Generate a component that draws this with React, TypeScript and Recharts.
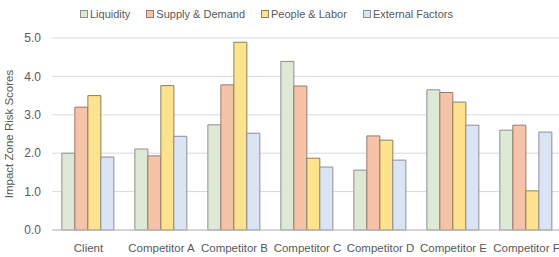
import React from "react";
import { BarChart, Bar, XAxis, YAxis, CartesianGrid, Legend } from "recharts";

const categories = ["Client", "Competitor A", "Competitor B", "Competitor C", "Competitor D", "Competitor E", "Competitor F"];
const liquidity = [2.0, 2.11, 2.74, 4.39, 1.56, 3.65, 2.6];
const supplyDemand = [3.2, 1.93, 3.78, 3.75, 2.45, 3.58, 2.73];
const peopleLabor = [3.5, 3.76, 4.89, 1.87, 2.34, 3.33, 1.02];
const externalFactors = [1.9, 2.44, 2.52, 1.64, 1.82, 2.73, 2.55];
const yTicks = [0, 1, 2, 3, 4, 5];

const data = categories.map((name, i) => ({
  name,
  liquidity: liquidity[i],
  supply: supplyDemand[i],
  people: peopleLabor[i],
  external: externalFactors[i],
}));

const SERIES = [
  { key: "liquidity", label: "Liquidity", fill: "#dde9d5", stroke: "#8e8e8e" },
  { key: "supply", label: "Supply & Demand", fill: "#f5c4a8", stroke: "#9a7a6c" },
  { key: "people", label: "People & Labor", fill: "#fde38e", stroke: "#8f7f5a" },
  { key: "external", label: "External Factors", fill: "#dae4f3", stroke: "#8e8e98" },
];

const TEXT = "#595959";

function LegendRow() {
  return (
    <div style={{ display: "flex", gap: 16, fontSize: 11, color: TEXT, fontFamily: "Liberation Sans, Arial, sans-serif" }}>
      {SERIES.map((s) => (
        <div key={s.key} style={{ display: "flex", alignItems: "center", gap: 2 }}>
          <span style={{ width: 6, height: 6, background: s.fill, border: `1px solid ${s.stroke}`, display: "inline-block" }} />
          <span>{s.label}</span>
        </div>
      ))}
    </div>
  );
}

export default function App() {
  return (
    <div style={{ position: "fixed", left: 0, top: 0, width: 559, height: 257, overflow: "hidden", background: "#fff", fontFamily: "Liberation Sans, Arial, sans-serif" }}>
      <BarChart
        width={566}
        height={257}
        data={data}
        margin={{ top: 10, right: 3, left: 0, bottom: 0 }}
        barCategoryGap="13.5%"
        barGap={0}
      >
        <Legend
          verticalAlign="top"
          height={28}
          content={() => <LegendRow />}
          wrapperStyle={{ left: 80, top: 8, width: 420 }}
        />
        <CartesianGrid vertical={false} stroke="#d9d9d9" />
        <XAxis
          dataKey="name"
          tickLine={false}
          axisLine={{ stroke: "#bfbfbf" }}
          tick={{ fill: TEXT, fontSize: 11.5 }}
          interval={0}
          height={27}
          tickMargin={8}
        />
        <YAxis
          width={52}
          domain={[0, 5]}
          ticks={yTicks}
          tickFormatter={(v: number) => v.toFixed(1)}
          axisLine={false}
          tickLine={false}
          tick={{ fill: TEXT, fontSize: 12 }}
          tickMargin={5}
          label={{ value: "Impact Zone Risk Scores", angle: -90, position: "insideLeft", offset: 9, style: { textAnchor: "middle", fill: TEXT, fontSize: 11.5 } }}
        />
        {SERIES.map((s) => (
          <Bar key={s.key} dataKey={s.key} name={s.label} fill={s.fill} stroke={s.stroke} strokeWidth={1} isAnimationActive={false} />
        ))}
      </BarChart>
    </div>
  );
}
